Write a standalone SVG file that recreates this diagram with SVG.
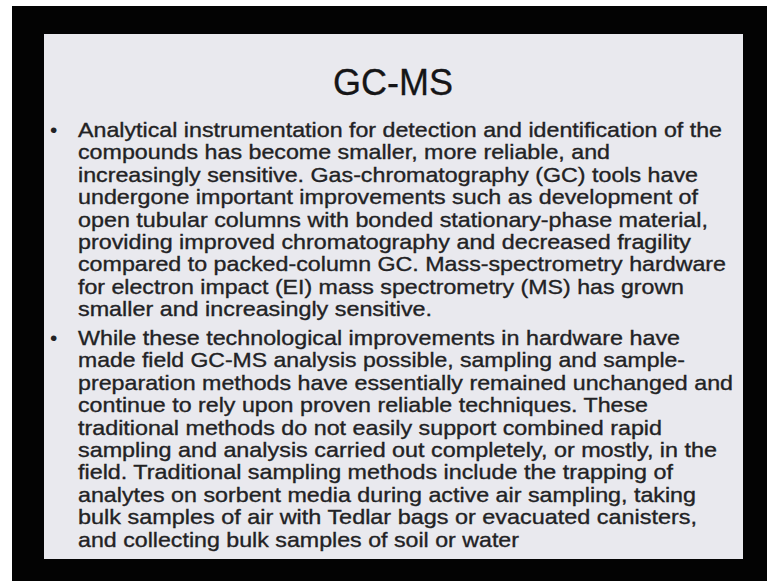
<svg xmlns="http://www.w3.org/2000/svg" width="767" height="581" viewBox="0 0 767 581">
<style>
.t{font-family:"Liberation Sans",Arial,sans-serif;font-size:21px;fill:#222224;stroke:#222224;stroke-width:0.35px}
.h{font-family:"Liberation Sans",Arial,sans-serif;font-size:36px;fill:#151517;stroke:#151517;stroke-width:0.3px}
.b{font-family:"Liberation Sans",Arial,sans-serif;font-size:21px;fill:#222224}
</style>
<rect x="0" y="0" width="767" height="581" fill="#ffffff"/>
<rect x="12" y="6" width="755" height="575" fill="#030303"/>
<rect x="44" y="34" width="699" height="525" fill="#e9e9ee"/>
<g id="title">
<text class="h" x="393" y="95" text-anchor="middle">GC-MS</text>
</g>
<g id="bullet1">
<text class="b" x="50" y="137">•</text>
<text class="t" x="78" y="137" textLength="644" lengthAdjust="spacingAndGlyphs">Analytical instrumentation for detection and identification of the</text>
<text class="t" x="78" y="159.4" textLength="532" lengthAdjust="spacingAndGlyphs">compounds has become smaller, more reliable, and</text>
<text class="t" x="78" y="181.8" textLength="620" lengthAdjust="spacingAndGlyphs">increasingly sensitive. Gas-chromatography (GC) tools have</text>
<text class="t" x="78" y="204.2" textLength="620" lengthAdjust="spacingAndGlyphs">undergone important improvements such as development of</text>
<text class="t" x="78" y="226.6" textLength="630" lengthAdjust="spacingAndGlyphs">open tubular columns with bonded stationary-phase material,</text>
<text class="t" x="78" y="249" textLength="613" lengthAdjust="spacingAndGlyphs">providing improved chromatography and decreased fragility</text>
<text class="t" x="78" y="271.4" textLength="648" lengthAdjust="spacingAndGlyphs">compared to packed-column GC. Mass-spectrometry hardware</text>
<text class="t" x="78" y="293.8" textLength="606" lengthAdjust="spacingAndGlyphs">for electron impact (EI) mass spectrometry (MS) has grown</text>
<text class="t" x="78" y="316.2" textLength="354" lengthAdjust="spacingAndGlyphs">smaller and increasingly sensitive.</text>
</g>
<g id="bullet2">
<text class="b" x="50" y="345">•</text>
<text class="t" x="78" y="345" textLength="602" lengthAdjust="spacingAndGlyphs">While these technological improvements in hardware have</text>
<text class="t" x="78" y="367.4" textLength="607" lengthAdjust="spacingAndGlyphs">made field GC-MS analysis possible, sampling and sample-</text>
<text class="t" x="78" y="389.8" textLength="655" lengthAdjust="spacingAndGlyphs">preparation methods have essentially remained unchanged and</text>
<text class="t" x="78" y="412.2" textLength="570" lengthAdjust="spacingAndGlyphs">continue to rely upon proven reliable techniques. These</text>
<text class="t" x="78" y="434.6" textLength="584" lengthAdjust="spacingAndGlyphs">traditional methods do not easily support combined rapid</text>
<text class="t" x="78" y="457" textLength="639" lengthAdjust="spacingAndGlyphs">sampling and analysis carried out completely, or mostly, in the</text>
<text class="t" x="78" y="479.4" textLength="595" lengthAdjust="spacingAndGlyphs">field. Traditional sampling methods include the trapping of</text>
<text class="t" x="78" y="501.8" textLength="618" lengthAdjust="spacingAndGlyphs">analytes on sorbent media during active air sampling, taking</text>
<text class="t" x="78" y="524.2" textLength="619" lengthAdjust="spacingAndGlyphs">bulk samples of air with Tedlar bags or evacuated canisters,</text>
<text class="t" x="78" y="546.6" textLength="441" lengthAdjust="spacingAndGlyphs">and collecting bulk samples of soil or water</text>
</g>
</svg>
